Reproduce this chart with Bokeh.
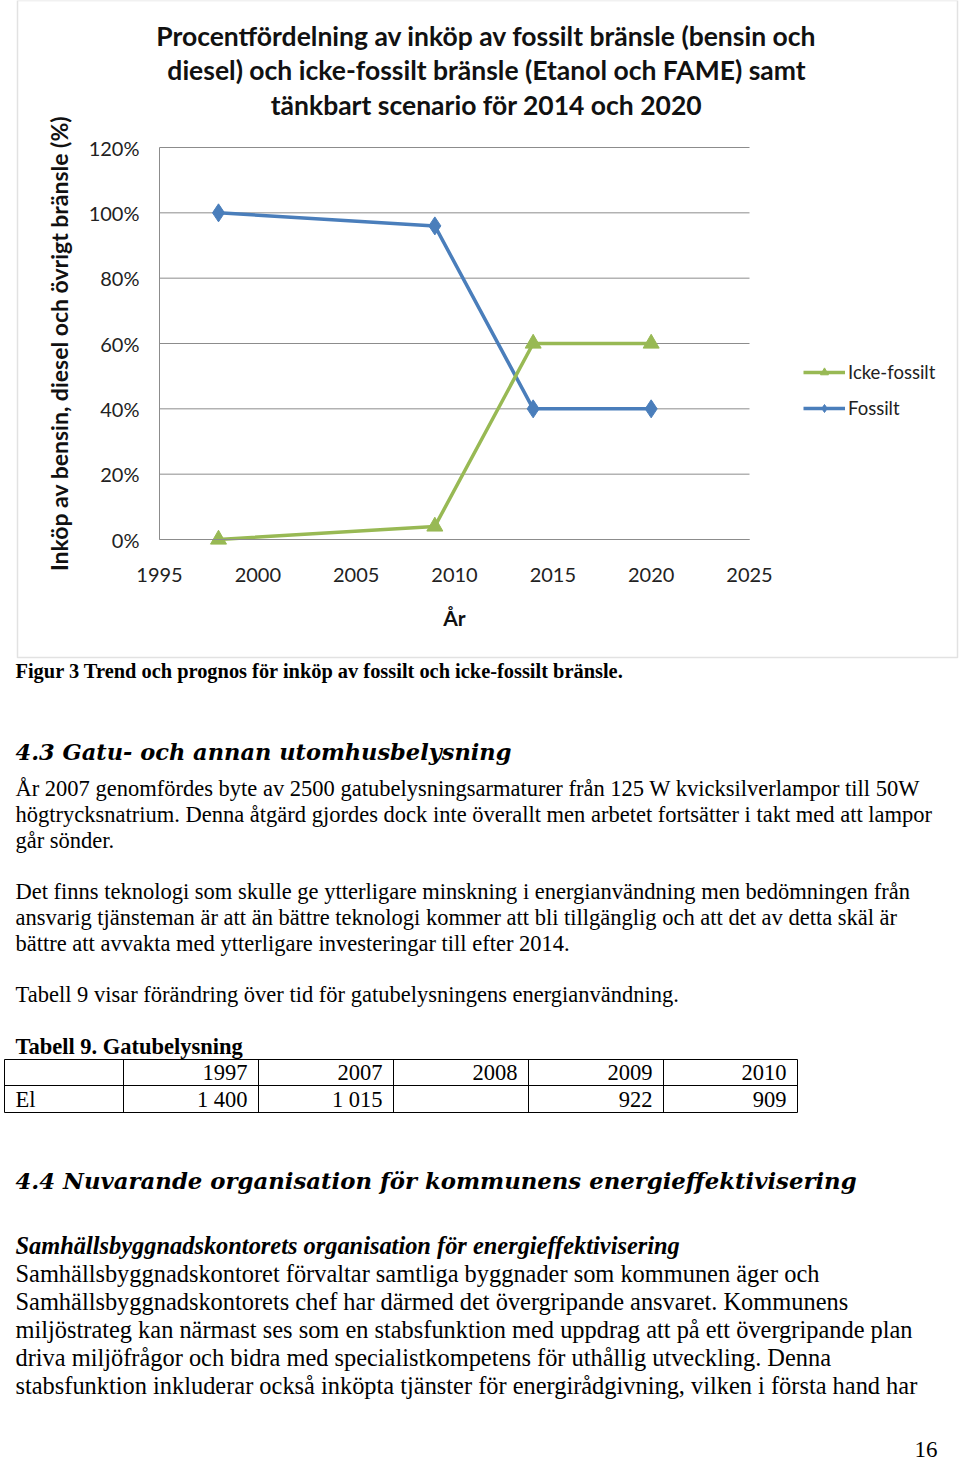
from bokeh.plotting import figure
from bokeh.models import (Range1d, NumeralTickFormatter, FixedTicker, Legend, LegendItem,
                          LinearAxis, BoxAnnotation)
from bokeh.core.properties import value
from bokeh.embed import file_html
from bokeh.resources import INLINE

# ---------------- chart data ----------------
years_fossil = [1998, 2009, 2014, 2020]
fossil = [1.00, 0.96, 0.40, 0.40]
years_nonfossil = [1998, 2009, 2014, 2020]
nonfossil = [0.00, 0.04, 0.60, 0.60]
x_ticks = [1995, 2000, 2005, 2010, 2015, 2020, 2025]
y_ticks = [0.0, 0.2, 0.4, 0.6, 0.8, 1.0, 1.2]
title_lines = ["Procentfördelning av inköp av fossilt bränsle (bensin och",
               "diesel) och icke-fossilt bränsle (Etanol och FAME) samt",
               "tänkbart scenario för 2014 och 2020"]
x_label = "År"
y_label = "Inköp av bensin, diesel och övrigt bränsle (%)"

# ---------------- table data ----------------
table_years = ["", "1997", "2007", "2008", "2009", "2010"]
table_el = ["El", "1 400", "1 015", "", "922", "909"]

BLUE = "#4A7EBB"
GREEN = "#98B954"
SANS = "Lato"
SERIF = "Liberation Serif"

W, H = 960, 1463
# pixel placement of the chart's plot area on the page
PX_L, PX_R, PY_T, PY_B = 159, 749, 147, 539
X0, X1, Y0, Y1 = 1995, 2025, 0.0, 1.2
sx = (PX_R - PX_L) / (X1 - X0)
sy = (PY_B - PY_T) / (Y1 - Y0)
xr = Range1d(X0 - PX_L / sx, X1 + (W - PX_R) / sx)
yr = Range1d(Y0 - (H - PY_B) / sy, Y1 + PY_T / sy)

p = figure(width=W, height=H, x_range=xr, y_range=yr,
           x_axis_location=None, y_axis_location=None,
           output_backend="svg", toolbar_location=None,
           min_border=0, min_border_left=0, min_border_right=0, min_border_top=0, min_border_bottom=0)
p.outline_line_color = None
p.background_fill_color = "white"
p.border_fill_color = "white"
p.grid.visible = False
p.extra_x_ranges = {"page": Range1d(0, W)}
p.extra_y_ranges = {"page": Range1d(H, 0)}

# chart frame border
p.add_layout(BoxAnnotation(left=17, right=957, bottom=H - 657, top=H,
                           left_units="screen", right_units="screen",
                           bottom_units="screen", top_units="screen",
                           fill_alpha=0, line_color="#a0a0a0", line_width=1.5))

# horizontal gridlines over the plot area
p.segment(x0=[X0] * len(y_ticks), x1=[X1] * len(y_ticks), y0=y_ticks, y1=y_ticks,
          line_color="#8c8c8c", line_width=1)

xaxis = LinearAxis(fixed_location=Y0, ticker=FixedTicker(ticks=x_ticks), bounds=(X0, X1),
                   axis_label=x_label)
yaxis = LinearAxis(fixed_location=X0, ticker=FixedTicker(ticks=y_ticks), bounds=(Y0, Y1),
                   formatter=NumeralTickFormatter(format="0%"), axis_label=y_label)
for ax in (xaxis, yaxis):
    ax.axis_line_color = "#8c8c8c"
    ax.major_tick_line_color = None
    ax.minor_tick_line_color = None
    ax.major_label_text_font = SANS
    ax.major_label_text_font_size = "20px"
    ax.major_label_text_color = "#222222"
    ax.axis_label_text_font = SANS
    ax.axis_label_text_font_style = "bold"
    ax.axis_label_text_color = "#111111"
xaxis.axis_label_text_font_size = "21px"
yaxis.axis_label_text_font_size = "23px"
xaxis.major_label_standoff = 22
yaxis.major_label_standoff = 14
xaxis.axis_label_standoff = 20
yaxis.axis_label_standoff = 13
p.add_layout(xaxis, "below")
p.add_layout(yaxis, "left")

fl = p.line(years_fossil, fossil, line_color=BLUE, line_width=3.5)
fm = p.scatter(years_fossil, fossil, marker="diamond", size=18, fill_color=BLUE, line_color=BLUE)
nl = p.line(years_nonfossil, nonfossil, line_color=GREEN, line_width=3.5)
nm = p.scatter(years_nonfossil, nonfossil, marker="triangle", size=16, fill_color=GREEN, line_color=GREEN)

legend = Legend(items=[LegendItem(label="Icke-fossilt", renderers=[nl, nm]),
                       LegendItem(label="Fossilt", renderers=[fl, fm])],
                location=(803, H - 419), orientation="vertical",
                label_text_font=SANS, label_text_font_size="18.5px", label_text_color="#222222",
                glyph_width=42, glyph_height=20, label_height=20, spacing=14, padding=0, margin=0,
                label_standoff=3, border_line_color=None, background_fill_alpha=0)
p.add_layout(legend, "center")


def txt(x, y, s, font=SERIF, size="22.5px", style="normal", align="center", color="black"):
    p.text(x=[x], y=[y], text=[s], text_font=value(font), text_font_size=size,
           text_font_style=style, text_align=align, text_baseline="middle", text_color=color,
           x_range_name="page", y_range_name="page")


for i, t in enumerate(title_lines):
    txt(486, 35 + 34.5 * i, t, font=SANS, size="26.5px", style="bold", color="#111111")

# ---------------- page text below the chart ----------------
txt(15, 670, "Figur 3 Trend och prognos för inköp av fossilt och icke-fossilt bränsle.",
    size="20.4px", style="bold", align="left")
txt(15, 751, "4.3 Gatu- och annan utomhusbelysning", font="DejaVu Serif", size="22.5px",
    style="bold italic", align="left")

para1 = ["År 2007 genomfördes byte av 2500 gatubelysningsarmaturer från 125 W kvicksilverlampor till 50W",
         "högtrycksnatrium. Denna åtgärd gjordes dock inte överallt men arbetet fortsätter i takt med att lampor",
         "går sönder."]
for i, s in enumerate(para1):
    txt(15, 788 + 26 * i, s, align="left")

para2 = ["Det finns teknologi som skulle ge ytterligare minskning i energianvändning men bedömningen från",
         "ansvarig tjänsteman är att än bättre teknologi kommer att bli tillgänglig och att det av detta skäl är",
         "bättre att avvakta med ytterligare investeringar till efter 2014."]
for i, s in enumerate(para2):
    txt(15, 891 + 26 * i, s, align="left")

txt(15, 994, "Tabell 9 visar förändring över tid för gatubelysningens energianvändning.", align="left")
txt(15, 1046, "Tabell 9. Gatubelysning", style="bold", align="left")

# table
col_edges = [4, 123, 258, 393, 528, 663, 797]
row_edges = [1059, 1085, 1112]
p.segment(x0=[col_edges[0]] * 3, x1=[col_edges[-1]] * 3, y0=row_edges, y1=row_edges,
          line_color="black", line_width=1, x_range_name="page", y_range_name="page")
p.segment(x0=col_edges, x1=col_edges, y0=[row_edges[0]] * len(col_edges),
          y1=[row_edges[-1]] * len(col_edges),
          line_color="black", line_width=1, x_range_name="page", y_range_name="page")
for r, row in enumerate([table_years, table_el]):
    yc = (row_edges[r] + row_edges[r + 1]) / 2
    for c, s in enumerate(row):
        if not s:
            continue
        if c == 0:
            txt(col_edges[0] + 11, yc, s, align="left")
        else:
            txt(col_edges[c + 1] - 11, yc, s, align="right")

txt(15, 1180, "4.4  Nuvarande organisation för kommunens energieffektivisering", font="DejaVu Serif",
    size="22.8px", style="bold italic", align="left")
txt(15, 1245, "Samhällsbyggnadskontorets organisation för energieffektivisering", size="24.4px",
    style="bold italic", align="left")

para3 = ["Samhällsbyggnadskontoret förvaltar samtliga byggnader som kommunen äger och",
         "Samhällsbyggnadskontorets chef har därmed det övergripande ansvaret. Kommunens",
         "miljöstrateg kan närmast ses som en stabsfunktion med uppdrag att på ett övergripande plan",
         "driva miljöfrågor och bidra med specialistkompetens för uthållig utveckling. Denna",
         "stabsfunktion inkluderar också inköpta tjänster för energirådgivning, vilken i första hand har"]
for i, s in enumerate(para3):
    txt(15, 1273 + 28 * i, s, size="24.4px", align="left")

txt(937, 1449, "16", size="23px", align="right")

open("out.html", "w").write(file_html(p, INLINE))
